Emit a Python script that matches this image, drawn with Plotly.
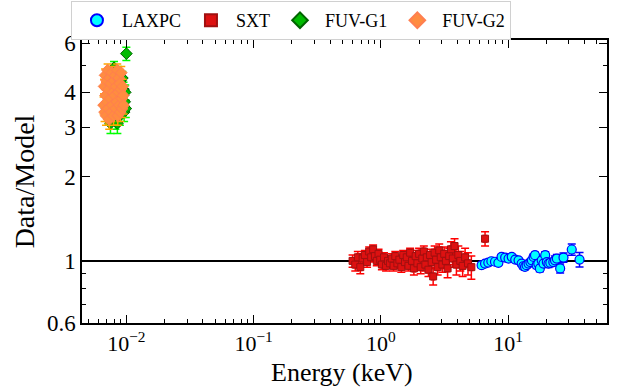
import plotly.graph_objects as go
import numpy as np

# ---------------- data ----------------
laxpc_x = [6.2, 6.6, 7.0, 7.4, 7.9, 8.4, 8.9, 9.5, 10.1, 10.7, 11.4, 12.1, 12.8, 13.2, 13.6, 14.0,
           14.5, 15.0, 15.4, 15.9, 16.3, 16.8, 17.3, 17.8, 18.4, 19.0, 19.6, 20.2, 20.8, 21.5,
           22.7, 23.4, 24.2, 25.7, 27.3, 31.7, 36.5]
laxpc_y = [0.965, 0.978, 0.986, 0.997, 0.993, 0.984, 1.033, 1.028, 1.019, 1.033, 1.011, 1.005, 0.978,
           0.957, 0.952, 0.965, 0.978, 0.99, 1.005, 1.033, 1.048, 0.965, 0.978, 0.94, 1.005, 0.978,
           1.048, 0.99, 0.978, 0.984, 0.99, 1.005, 1.019, 0.94, 1.028, 1.098, 1.011]
laxpc_yerr = [0.02, 0.02, 0.02, 0.02, 0.02, 0.02, 0.02, 0.02, 0.02, 0.02, 0.02, 0.02, 0.02,
              0.02, 0.02, 0.02, 0.02, 0.02, 0.02, 0.025, 0.025, 0.025, 0.025, 0.025, 0.025, 0.025,
              0.03, 0.03, 0.03, 0.03, 0.03, 0.035, 0.035, 0.035, 0.04, 0.05, 0.06]

sxt_x = [0.60, 0.63, 0.66, 0.69, 0.72, 0.75, 0.78, 0.81, 0.84, 0.87, 0.90, 0.93, 0.96, 0.99,
         1.02, 1.06, 1.10, 1.14, 1.18, 1.22, 1.26, 1.30, 1.35, 1.40, 1.45, 1.50, 1.55, 1.60,
         1.65, 1.70, 1.76, 1.82, 1.88, 1.94, 2.00, 2.06, 2.12, 2.18, 2.24, 2.30, 2.37, 2.44,
         2.51, 2.58, 2.65, 2.72, 2.80, 2.88, 2.96, 3.05, 3.15, 3.25, 3.35, 3.45, 3.56, 3.68,
         3.80, 3.93, 4.07, 4.22, 4.40, 4.60, 4.85, 5.15, 6.60]
sxt_y = [1.00, 0.97, 1.03, 0.95, 1.02, 1.05, 0.99, 1.08, 1.03, 1.10, 1.04, 1.00, 1.06, 1.01,
         0.97, 1.03, 0.96, 1.00, 0.98, 1.02, 0.96, 1.04, 0.98, 1.01, 0.95, 1.05, 0.99, 1.03,
         0.96, 1.07, 1.00, 0.94, 1.04, 0.98, 1.06, 0.95, 1.02, 1.08, 0.97, 1.03, 0.93, 1.05,
         0.99, 0.88, 1.07, 1.01, 0.95, 1.09, 1.03, 0.97, 1.06, 1.00, 0.94, 1.04, 1.10, 1.02,
         1.13, 0.97, 1.05, 1.00, 0.96, 1.03, 0.98, 0.95, 1.20]
sxt_yerr = [0.05, 0.05, 0.05, 0.05, 0.04, 0.04, 0.04, 0.04, 0.04, 0.04, 0.04, 0.04, 0.04, 0.04,
            0.04, 0.04, 0.04, 0.04, 0.04, 0.04, 0.04, 0.04, 0.04, 0.04, 0.04, 0.04, 0.04, 0.04,
            0.04, 0.04, 0.05, 0.05, 0.05, 0.05, 0.05, 0.05, 0.05, 0.05, 0.05, 0.05, 0.05, 0.05,
            0.05, 0.06, 0.06, 0.06, 0.06, 0.06, 0.06, 0.06, 0.06, 0.06, 0.07, 0.07, 0.07, 0.07,
            0.07, 0.08, 0.08, 0.08, 0.08, 0.08, 0.09, 0.09, 0.07]

g1_x = [0.0070, 0.0071, 0.0072, 0.0073, 0.0074, 0.0075, 0.0076, 0.0077, 0.0078, 0.0079, 0.0080,
        0.0081, 0.0082, 0.0083, 0.0084, 0.0085, 0.0086, 0.0087, 0.0088, 0.0089, 0.0090, 0.0091,
        0.0092, 0.0093, 0.0094, 0.0095, 0.0096, 0.0097, 0.0098, 0.0099, 0.0100]
g1_y = [3.5, 4.1, 3.3, 4.4, 3.8, 3.1, 4.6, 3.6, 4.2, 3.4, 4.9, 3.7, 3.2, 4.3, 3.9, 3.1, 4.7, 3.5,
        4.0, 3.3, 4.4, 3.8, 3.6, 4.5, 3.9, 4.1, 3.4, 3.7, 4.0, 3.5, 5.5]
g1_yerr = [0.25] * 30 + [0.3]

g2_x = [0.00662, 0.00668, 0.00674, 0.0068, 0.00686, 0.00692, 0.00698, 0.00705, 0.00712, 0.00719,
        0.00726, 0.00733, 0.0074, 0.00747, 0.00754, 0.00761, 0.00768, 0.00776, 0.00784, 0.00792,
        0.008, 0.00808, 0.00816, 0.00824, 0.00832, 0.0084, 0.00848, 0.00856, 0.00864, 0.00872,
        0.0088, 0.00888, 0.00896, 0.00904, 0.00912, 0.0092, 0.00928, 0.00936, 0.00944, 0.00952]
g2_y = [3.6, 4.2, 3.4, 4.6, 3.9, 3.3, 4.4, 3.7, 4.8, 3.5, 4.1, 3.2, 4.5, 3.8, 4.3, 3.4, 4.7, 3.6,
        4.0, 3.3, 4.4, 3.9, 4.6, 3.5, 4.2, 3.7, 4.8, 3.3, 4.0, 4.5, 3.6, 4.3, 3.4, 4.1, 4.7, 3.8,
        3.5, 4.2, 3.9, 3.6]
g2_yerr = [0.25] * 40

x_tickvals = [0.01, 0.1, 1, 10]
x_ticktext = ["10<sup>−2</sup>", "10<sup>−1</sup>", "10<sup>0</sup>", "10<sup>1</sup>"]
y_tickvals = [0.6, 1, 2, 3, 4, 6]
y_ticktext = ["0.6", "1", "2", "3", "4", "6"]
x_title = "Energy (keV)"
y_title = "Data/Model"

FONT = "Liberation Serif"


def xerr_of(xs, frac):
    return [x * frac for x in xs]


fig = go.Figure()

fig.add_trace(go.Scatter(
    x=laxpc_x, y=laxpc_y, mode="markers", name="LAXPC",
    error_y=dict(type="data", array=laxpc_yerr, color="#0000ff", thickness=1.5, width=4),
    error_x=dict(type="data", array=xerr_of(laxpc_x, 0.035), color="#0000ff", thickness=1.5, width=4),
    marker=dict(symbol="circle", size=9, color="#00ffff", line=dict(color="#0000ff", width=1.2)),
))
fig.add_trace(go.Scatter(
    x=sxt_x, y=sxt_y, mode="markers", name="SXT",
    error_y=dict(type="data", array=sxt_yerr, color="#ff0000", thickness=1.5, width=4),
    error_x=dict(type="data", array=xerr_of(sxt_x, 0.025), color="#ff0000", thickness=1.5, width=4),
    marker=dict(symbol="square", size=7, color="#dd1111", line=dict(color="#a01010", width=1)),
))
fig.add_trace(go.Scatter(
    x=g1_x, y=g1_y, mode="markers", name="FUV-G1",
    error_y=dict(type="data", array=g1_yerr, color="#00ff00", thickness=1.5, width=4),
    error_x=dict(type="data", array=xerr_of(g1_x, 0.03), color="#00ff00", thickness=1.5, width=4),
    marker=dict(symbol="diamond", size=9, color="#00bb00", line=dict(color="#006400", width=1)),
))
fig.add_trace(go.Scatter(
    x=g2_x, y=g2_y, mode="markers", name="FUV-G2",
    error_y=dict(type="data", array=g2_yerr, color="#ffa500", thickness=1.5, width=4),
    error_x=dict(type="data", array=xerr_of(g2_x, 0.03), color="#ffa500", thickness=1.5, width=4),
    marker=dict(symbol="diamond", size=9, color="#ff8c40", line=dict(color="#ff7f50", width=1)),
))

fig.add_shape(type="line", xref="paper", x0=0, x1=1, yref="y", y0=1, y1=1,
              line=dict(color="black", width=2), layer="below")

x_minor = [m * 10.0 ** e for e in range(-3, 2) for m in range(2, 10)]
x_minor = [v for v in x_minor if 0.0045 < v < 60]

fig.update_xaxes(
    type="log", range=[np.log10(0.00448), np.log10(60)],
    tickmode="array", tickvals=x_tickvals, ticktext=x_ticktext,
    ticks="inside", ticklen=8, tickwidth=1.2, tickcolor="black",
    minor=dict(tickmode="array", tickvals=x_minor, ticks="inside", ticklen=4, tickwidth=1, tickcolor="black", showgrid=False),
    showline=True, linecolor="black", linewidth=1.5, mirror="ticks",
    showgrid=False, zeroline=False,
    tickfont=dict(family=FONT, size=22, color="black"),
)
fig.update_yaxes(
    type="log", range=[np.log10(0.6), 0.789],
    tickmode="array", tickvals=y_tickvals, ticktext=y_ticktext,
    ticks="inside", ticklen=8, tickwidth=1.2, tickcolor="black",
    minor=dict(tickmode="array", tickvals=[0.7, 0.8, 0.9, 5], ticks="inside", ticklen=4, tickwidth=1, tickcolor="black", showgrid=False),
    showline=True, linecolor="black", linewidth=1.5, mirror="ticks",
    showgrid=False, zeroline=False,
    tickfont=dict(family=FONT, size=23, color="black"),
    title=dict(text=y_title, font=dict(family=FONT, size=28, color="black"), standoff=4),
)

fig.add_annotation(text=x_title, xref="paper", yref="paper", x=0.495, y=0,
                   xanchor="center", yanchor="top", yshift=-34, showarrow=False,
                   borderpad=0,
                   font=dict(family=FONT, size=26, color="black"))

fig.update_layout(
    width=621, height=389,
    margin=dict(l=82, r=14, t=40, b=66, autoexpand=False),
    paper_bgcolor="white", plot_bgcolor="white",
    showlegend=True,
    legend=dict(orientation="h", x=0.398, xanchor="center", y=1.0, yanchor="bottom",
                font=dict(family=FONT, size=18, color="black"),
                bgcolor="white", bordercolor="#d0d0d0", borderwidth=1,
                itemsizing="constant", itemwidth=40),
)

fig.write_html("out.html")
